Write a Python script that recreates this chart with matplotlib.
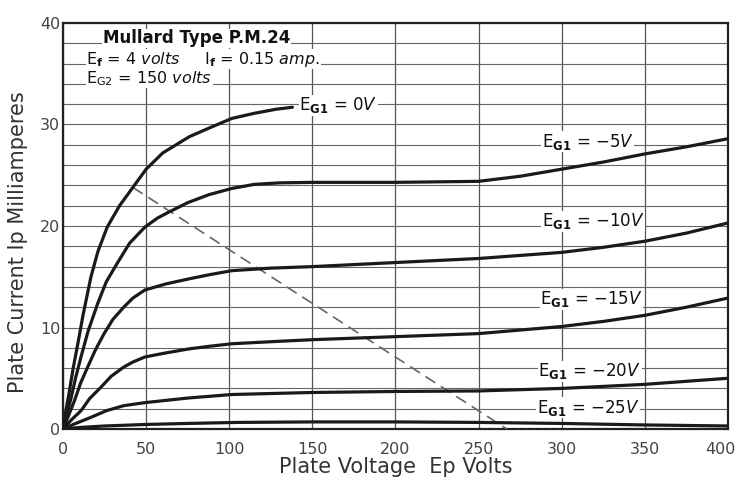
import numpy as np
import matplotlib
matplotlib.use("Agg")
import matplotlib.pyplot as plt
import matplotlib.transforms as mtrans

# plate voltage (V) / plate current (mA), one pair of lists per grid bias
v_0 = [0, 1.5, 3.9, 6, 8.9, 12, 16.8, 21, 26.6, 34, 42, 50, 60, 76, 90, 101.6, 115, 128, 138]
i_0 = [0, 1.6, 3.8, 5.9, 8.4, 11.2, 15, 17.5, 19.9, 22, 23.8, 25.6, 27.2, 28.8, 29.8, 30.6, 31.1, 31.5, 31.7]

v_5 = [0, 2, 4.9, 7.5, 10.8, 15, 20.7, 26, 32.5, 40, 49.3, 57, 64, 75, 88, 101.6, 115, 130, 150,
       200, 250, 275, 300, 325, 350, 375, 400]
i_5 = [0, 1.3, 3.1, 5, 7.1, 9.6, 12.3, 14.5, 16.3, 18.3, 19.9, 20.8, 21.4, 22.3, 23.1, 23.7, 24.1, 24.25, 24.3,
       24.3, 24.4, 24.9, 25.6, 26.3, 27.1, 27.8, 28.6]

v_10 = [0, 3, 6.9, 10.5, 14.8, 19.5, 24.7, 30, 36.5, 42, 49.3, 62, 76, 88, 101.6, 125, 150,
        200, 250, 300, 325, 350, 375, 400]
i_10 = [0, 1.2, 2.8, 4.5, 6.1, 7.8, 9.4, 10.8, 12, 12.9, 13.7, 14.3, 14.8, 15.2, 15.6, 15.85, 16,
        16.4, 16.8, 17.4, 17.9, 18.5, 19.3, 20.3]

v_15 = [0, 5, 10.8, 16, 22.7, 29, 36.5, 42, 49.3, 62, 76, 88, 101.6, 125, 150, 200, 250, 300, 325, 350, 375, 400]
i_15 = [0, 0.9, 1.8, 3.0, 4.1, 5.2, 6.1, 6.6, 7.1, 7.5, 7.9, 8.15, 8.4, 8.6, 8.8, 9.1, 9.4, 10.1, 10.6, 11.2, 12, 12.9]

v_20 = [0, 6.9, 16.8, 26, 36.5, 49.3, 75, 101.6, 150, 200, 250, 300, 350, 400]
i_20 = [0, 0.5, 1.15, 1.8, 2.3, 2.6, 3.05, 3.4, 3.6, 3.7, 3.75, 4.0, 4.4, 5.0]

v_25 = [0, 10, 25, 50, 75, 105, 150, 200, 250, 300, 350, 400]
i_25 = [0, 0.15, 0.3, 0.45, 0.55, 0.65, 0.7, 0.7, 0.65, 0.55, 0.4, 0.3]

# dashed load line
load_v = [42, 267]
load_i = [23.8, 0]

curves = [(v_0, i_0, "0V"), (v_5, i_5, "-5V"), (v_10, i_10, "-10V"),
          (v_15, i_15, "-15V"), (v_20, i_20, "-20V"), (v_25, i_25, "-25V")]
label_pos = [(142, 31.4), (288, 27.8), (288, 20.0), (287, 12.3), (286, 5.2), (285, 1.6)]

x_ticks = [0, 50, 100, 150, 200, 250, 300, 350, 400]
y_ticks = [0, 10, 20, 30, 40]

fig = plt.figure(figsize=(7.39, 4.84), dpi=100)
ax = fig.add_axes([0.0853, 0.1136, 0.8997, 0.8389])

ax.set_xlim(0, 400)
ax.set_ylim(0, 40)
ax.set_xticks(x_ticks)
ax.set_yticks(y_ticks)
ax.set_yticks(np.arange(0, 41, 2), minor=True)
ax.grid(True, which="major", axis="x", color="#555555", lw=0.9)
ax.grid(True, which="both", axis="y", color="#666666", lw=0.8)
ax.tick_params(which="both", length=0, labelsize=11.5, labelcolor="#444444")
ax.tick_params(axis="x", pad=9)
ax.tick_params(axis="y", pad=2)
for s in ax.spines.values():
    s.set_linewidth(1.6)
    s.set_color("#222222")

# nudge the last x label in so it is not cut at the figure edge
last = ax.get_xticklabels()[-1]
last.set_transform(last.get_transform() + mtrans.ScaledTranslation(-7 / 100, 0, fig.dpi_scale_trans))

for v, i, lab in curves:
    ax.plot(v, i, color="#1a1a1a", lw=2.3, solid_capstyle="round",
            solid_joinstyle="round", zorder=4)

ax.plot(load_v, load_i, color="#666666", lw=1.2, ls=(0, (7, 4)), zorder=3)

wbox = dict(facecolor="white", edgecolor="none", pad=0.4)
for (v, i, lab), (tx, ty) in zip(curves, label_pos):
    ax.text(tx, ty, r"E$_{\mathbf{G1}}$ = $\mathit{" + lab + "}$", fontsize=12,
            ha="left", va="baseline", color="#111111", bbox=wbox, zorder=3.5)

ax.text(24, 38.0, "Mullard Type P.M.24", fontsize=12, fontweight="bold",
        color="#111111", bbox=wbox, zorder=5)
ax.text(14, 36.0, r"E$_{\mathbf{f}}$ = $\mathit{4\ volts}$     I$_{\mathbf{f}}$ = $\mathit{0.15\ amp.}$",
        fontsize=11.5, color="#111111", bbox=wbox, zorder=5)
ax.text(14, 34.1, r"E$_{\mathrm{G2}}$ = $\mathit{150\ volts}$",
        fontsize=11.5, color="#111111", bbox=wbox, zorder=5)

ax.set_xlabel("Plate Voltage  Ep Volts", fontsize=15, color="#333333", labelpad=0)
ax.set_ylabel("Plate Current Ip Milliamperes", fontsize=15, color="#333333", labelpad=4)
ax.yaxis.set_label_coords(-0.052, 0.46)

fig.savefig("out.png", dpi=100)
